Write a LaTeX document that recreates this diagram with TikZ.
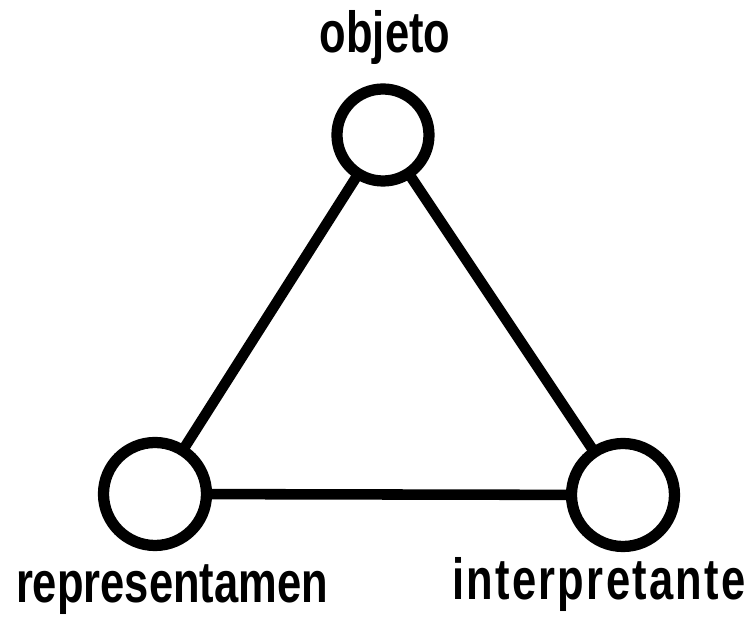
\documentclass[tikz,border=0pt]{standalone}
\usepackage{fontspec}
\setmainfont{Liberation Sans}[FakeStretch=0.75]
\usepackage{tikz}
\usetikzlibrary{positioning, calc}
\tikzset{
  vertex/.style={
    circle, draw=black, line width=3.2pt, fill=white, inner sep=0pt
  },
  edge/.style={draw=black, line width=3pt},
  termo/.style={anchor=base, inner sep=0pt, font=\fontsize{16.5}{18}\selectfont\bfseries},
}
\begin{document}
\begin{tikzpicture}
  \useasboundingbox (0,0) rectangle (7.49,6.23);

  \coordinate (pO) at (3.83,4.88);
  \coordinate (pR) at (1.55,1.29);
  \coordinate (pI) at (6.23,1.28);

  % sides of the triangle
  \draw[edge] (pO) -- (pR) -- (pI) -- cycle;

  % vertices
  \node[vertex, minimum size=0.92cm] (obj) at (pO) {};
  \node[vertex, minimum size=1.03cm] (rep) at (pR) {};
  \node[vertex, minimum size=1.03cm] (int) at (pI) {};

  % labels
  \node[termo] (tObj) at (3.85,5.70) {objeto};
  \node[termo] (tRep) at (1.72,0.20) {representamen};
  \node[termo, font=\fontsize{16.5}{18}\selectfont\bfseries\addfontfeature{LetterSpace=4}] (tInt) at (5.99,0.23) {interpretante};
\end{tikzpicture}
\end{document}
